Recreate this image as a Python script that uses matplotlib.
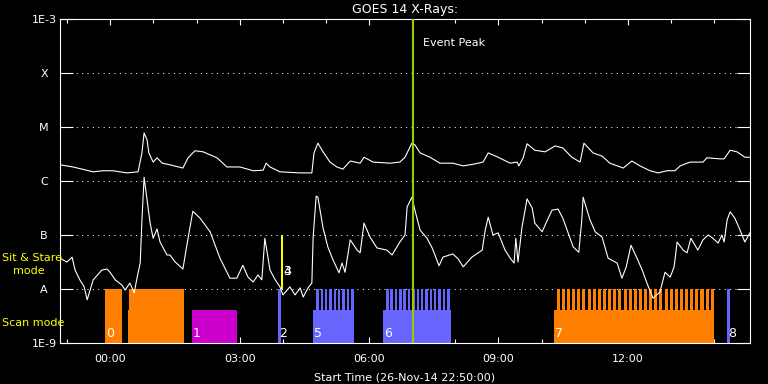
import numpy as np
import matplotlib
matplotlib.use("Agg")
import matplotlib.pyplot as plt

# hours since start (26-Nov-14 22:50) and log10 of flux (W/m^2)
long_t = [0.0, 0.30, 0.77, 1.00, 1.23, 1.55, 1.81, 1.90, 1.95, 2.02, 2.06, 2.16, 2.25, 2.37,
          2.55, 2.85, 2.97, 3.13, 3.32, 3.64, 3.87, 4.17, 4.48, 4.71, 4.78, 4.87, 5.10, 5.57,
          5.84, 5.89, 5.98, 6.10, 6.26, 6.42, 6.56, 6.73, 6.96, 7.05, 7.26, 7.65, 7.88, 8.00,
          8.16, 8.23, 8.35, 8.58, 8.81, 9.11, 9.35, 9.58, 9.81, 9.93, 10.16, 10.44, 10.60,
          10.64, 10.74, 10.83, 11.01, 11.25, 11.48, 11.66, 11.87, 12.06, 12.15, 12.36, 12.57,
          12.75, 13.06, 13.26, 13.45, 13.68, 13.87, 14.08, 14.26, 14.38, 14.61, 14.91, 15.00,
          15.30, 15.40, 15.54, 15.70, 15.88, 16.0]
long_lg = [-5.70, -5.74, -5.83, -5.81, -5.81, -5.85, -5.83, -5.48, -5.11, -5.24, -5.48, -5.65,
           -5.57, -5.67, -5.70, -5.76, -5.57, -5.44, -5.46, -5.57, -5.74, -5.74, -5.81, -5.80,
           -5.67, -5.74, -5.83, -5.85, -5.85, -5.48, -5.30, -5.46, -5.65, -5.74, -5.78, -5.63,
           -5.67, -5.56, -5.65, -5.67, -5.65, -5.56, -5.30, -5.33, -5.48, -5.56, -5.67, -5.67,
           -5.72, -5.69, -5.65, -5.48, -5.56, -5.67, -5.65, -5.72, -5.57, -5.31, -5.43, -5.46,
           -5.35, -5.39, -5.56, -5.65, -5.30, -5.48, -5.54, -5.67, -5.76, -5.63, -5.72, -5.81,
           -5.85, -5.81, -5.81, -5.72, -5.65, -5.65, -5.57, -5.59, -5.59, -5.43, -5.46, -5.56,
           -5.56]

short_t = [0.0, 0.16, 0.28, 0.35, 0.46, 0.56, 0.63, 0.77, 0.97, 1.09, 1.16, 1.28, 1.44, 1.51,
           1.62, 1.72, 1.79, 1.86, 1.90, 1.95, 2.02, 2.09, 2.16, 2.25, 2.32, 2.48, 2.55, 2.67,
           2.85, 2.95, 3.08, 3.25, 3.48, 3.71, 3.94, 4.10, 4.24, 4.36, 4.48, 4.59, 4.68, 4.75,
           4.87, 4.99, 5.10, 5.17, 5.33, 5.45, 5.57, 5.64, 5.75, 5.84, 5.87, 5.94, 5.98, 6.10,
           6.21, 6.33, 6.47, 6.54, 6.61, 6.73, 6.89, 6.96, 7.05, 7.19, 7.35, 7.58, 7.70, 7.88,
           8.00, 8.05, 8.16, 8.23, 8.35, 8.51, 8.63, 8.79, 8.88, 9.11, 9.23, 9.35, 9.55, 9.79,
           9.86, 9.93, 10.04, 10.16, 10.32, 10.44, 10.53, 10.57, 10.62, 10.71, 10.83, 10.95,
           11.01, 11.18, 11.32, 11.41, 11.55, 11.66, 11.90, 12.03, 12.10, 12.13, 12.29, 12.41,
           12.57, 12.71, 12.92, 13.03, 13.13, 13.24, 13.38, 13.50, 13.61, 13.75, 13.91, 14.03,
           14.15, 14.24, 14.31, 14.45, 14.54, 14.63, 14.79, 14.91, 15.03, 15.14, 15.26, 15.35,
           15.40, 15.47, 15.54, 15.65, 15.77, 15.88, 16.0]
short_lg = [-7.43, -7.50, -7.41, -7.65, -7.83, -7.96, -8.20, -7.83, -7.65, -7.63, -7.69, -7.83,
            -7.93, -8.02, -7.89, -8.07, -7.78, -7.52, -6.72, -5.93, -6.35, -6.78, -7.06, -6.89,
            -7.13, -7.37, -7.37, -7.50, -7.63, -7.15, -6.56, -6.69, -6.94, -7.43, -7.80, -7.80,
            -7.56, -7.78, -7.87, -7.74, -7.83, -7.06, -7.65, -7.83, -7.96, -8.11, -7.96, -8.11,
            -7.98, -8.15, -7.98, -7.89, -7.04, -6.28, -6.30, -6.87, -7.22, -7.46, -7.70, -7.52,
            -7.69, -7.09, -7.28, -7.33, -6.78, -7.04, -7.24, -7.28, -7.37, -7.13, -7.00, -6.48,
            -6.30, -6.54, -6.91, -7.06, -7.24, -7.57, -7.41, -7.35, -7.44, -7.59, -7.41, -7.28,
            -6.91, -6.67, -7.00, -6.96, -7.28, -7.43, -7.52, -7.06, -7.50, -6.87, -6.33, -6.50,
            -6.78, -6.94, -6.69, -6.54, -6.52, -6.69, -7.22, -7.32, -6.72, -6.30, -6.72, -6.94,
            -7.04, -7.43, -7.52, -7.80, -7.59, -7.19, -7.43, -7.65, -7.89, -8.17, -8.06, -7.69,
            -7.78, -7.59, -7.13, -7.28, -7.33, -7.06, -7.28, -7.09, -7.00, -7.06, -7.15, -7.00,
            -7.13, -6.72, -6.57, -6.69, -6.91, -7.13, -6.96]

# IRIS observations (hours since start)
orange, magenta, blue = "#ff8000", "#cc00cc", "#6666ff"
box_start = [1.04, 1.58, 1.60, 3.06, 5.06, 5.87, 7.49, 11.46, 15.47]
box_end = [1.44, 1.60, 2.88, 4.10, 5.13, 6.82, 9.07, 15.17, 15.54]
box_top = [1e-8, 4.1e-9, 1e-8, 4.1e-9, 1e-8, 4.1e-9, 4.1e-9, 4.1e-9, 1e-8]
box_color = [orange, orange, orange, magenta, blue, blue, blue, orange, blue]

# raster cadence inside the scan-mode blocks
raster_first = [5.94, 7.56, 11.52]
raster_period = [0.101, 0.101, 0.119]
raster_count = [9, 15, 31]
raster_width = [0.058, 0.058, 0.07]
raster_color = [blue, blue, orange]

# sit & stare observation
sit_t = 5.13
sit_width = 0.05

obs_label = ["0", "1", "2", "3", "4", "5", "6", "7", "8"]
obs_label_t = [1.06, 3.08, 5.08, 5.18, 5.18, 5.89, 7.51, 11.48, 15.49]
obs_label_lg = [-8.82, -8.82, -8.82, -7.67, -7.67, -8.82, -8.82, -8.82, -8.82]

event_t = 8.186

y_levels = [1e-9, 1e-8, 1e-7, 1e-6, 1e-5, 1e-4, 1e-3]
y_names = ["1E-9", "A", "B", "C", "M", "X", "1E-3"]
x_major = [1 + 10 / 60 + 3 * k for k in range(5)]
x_names = ["00:00", "03:00", "06:00", "09:00", "12:00"]
x_minor = [10 / 60 + k for k in range(16)]

plt.rcParams["font.family"] = "DejaVu Sans"
fig = plt.figure(figsize=(7.68, 3.84), dpi=100, facecolor="black")
ax = fig.add_axes([60 / 768, 41 / 384, 690 / 768, 324 / 384], facecolor="black")
ax.set_yscale("log")
ax.set_xlim(0, 16)
ax.set_ylim(1e-9, 1e-3)

for lev in y_levels[1:-1]:
    ax.axhline(lev, color="white", lw=0.72, dashes=(1, 4.4), zorder=1)

# observation blocks
ax.bar(box_start, np.array(box_top) - 1e-9, bottom=1e-9,
       width=np.array(box_end) - np.array(box_start), align="edge",
       color=box_color, linewidth=0, zorder=2)
for first, per, n, w, c in zip(raster_first, raster_period, raster_count, raster_width, raster_color):
    spikes = first + per * np.arange(n)
    ax.bar(spikes, 1e-8 - 1e-9, bottom=1e-9, width=w, align="edge",
           color=c, linewidth=0, zorder=2)
ax.bar([sit_t], [1e-7 - 1e-8], bottom=1e-8, width=sit_width, align="edge",
       color="yellow", linewidth=0, zorder=2)

ax.plot(long_t, 10 ** np.array(long_lg), color="white", lw=0.8, zorder=3)
ax.plot(short_t, 10 ** np.array(short_lg), color="white", lw=0.8, zorder=3)

for lab, t, lg in zip(obs_label, obs_label_t, obs_label_lg):
    ax.text(t, 10 ** lg, lab, color="white", fontsize=9, ha="left", va="center", zorder=4)

ax.axvline(event_t, color="#99cc00", lw=1.5, zorder=5)
ax.text(event_t + 0.23, 10 ** -3.44, "Event Peak", color="white", fontsize=8,
        ha="left", va="center")

# axes styling
for sp in ax.spines.values():
    sp.set_color("white")
    sp.set_linewidth(0.8)
ax.set_yticks(y_levels)
ax.set_yticklabels(y_names)
ax.yaxis.set_minor_locator(matplotlib.ticker.NullLocator())
ax.tick_params(axis="y", which="major", direction="in", length=9.4, width=0.8,
               colors="white", left=True, right=True, labelsize=8, pad=11.5)
for lbl in ax.get_yticklabels():
    lbl.set_horizontalalignment("center")
ax.set_xticks(x_major)
ax.set_xticklabels(x_names)
ax.set_xticks(x_minor, minor=True)
ax.tick_params(axis="x", which="major", direction="in", length=4.5, width=0.8,
               colors="white", top=True, bottom=True, labelsize=8, pad=8)
ax.tick_params(axis="x", which="minor", direction="in", length=2.8, width=0.8,
               colors="white", top=True, bottom=True)

fig.text(405 / 768, 1 - 10 / 384, "GOES 14 X-Rays:", color="white", fontsize=9,
         ha="center", va="center")
fig.text(405 / 768, 1 - 378 / 384, "Start Time (26-Nov-14 22:50:00)", color="white",
         fontsize=8, ha="center", va="center")
fig.text(2 / 768, 1 - 258 / 384, "Sit & Stare", color="yellow", fontsize=8,
         ha="left", va="center")
fig.text(13 / 768, 1 - 271 / 384, "mode", color="yellow", fontsize=8,
         ha="left", va="center")
fig.text(2 / 768, 1 - 323 / 384, "Scan mode", color="yellow", fontsize=8,
         ha="left", va="center")

fig.savefig("out.png", dpi=100, facecolor="black")
